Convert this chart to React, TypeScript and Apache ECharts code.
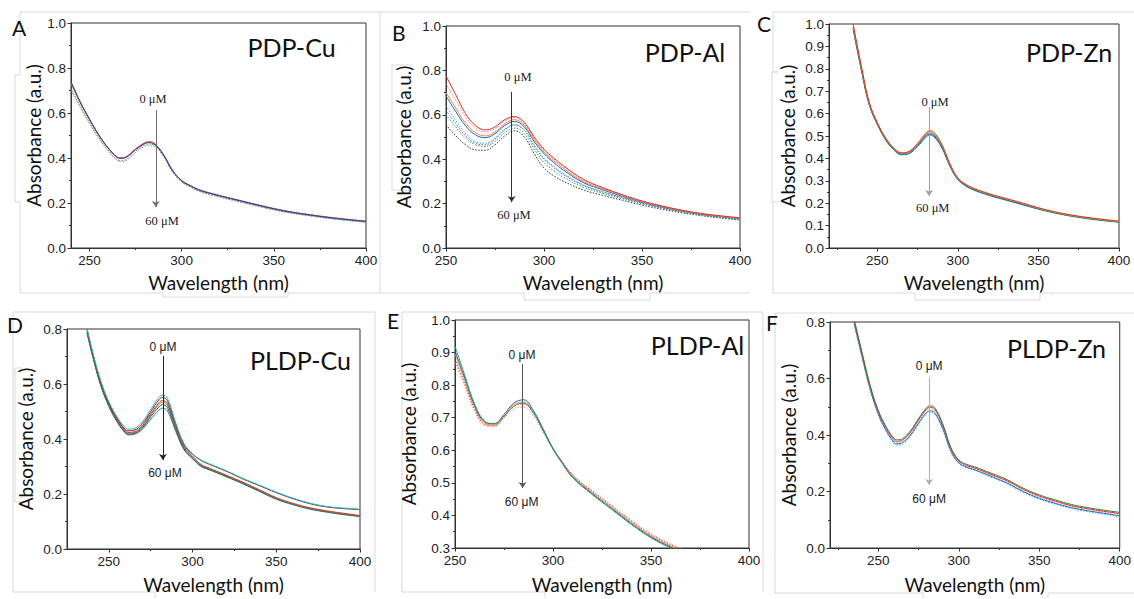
import React, { useEffect, useRef } from 'react';
import * as echarts from 'echarts';

// ---------- DATA ----------
// Panel A: PDP-Cu
const wlA = [240,245,250,255,260,265,267,270,275,280,282,285,290,295,300,305,310,320,330,340,350,360,370,380,390,400];
const pdpCu1 = [0.735,0.648,0.572,0.503,0.447,0.405,0.401,0.406,0.440,0.468,0.472,0.466,0.418,0.346,0.300,0.276,0.257,0.234,0.214,0.194,0.175,0.159,0.147,0.136,0.127,0.119];
const pdpCu2 = [0.740,0.650,0.574,0.504,0.446,0.403,0.399,0.404,0.437,0.464,0.468,0.462,0.415,0.344,0.299,0.275,0.256,0.233,0.213,0.193,0.174,0.158,0.146,0.135,0.126,0.118];
const pdpCu3 = [0.730,0.644,0.569,0.500,0.444,0.402,0.398,0.403,0.438,0.466,0.470,0.465,0.418,0.347,0.301,0.277,0.258,0.235,0.215,0.195,0.176,0.160,0.148,0.137,0.127,0.119];
const pdpCu4 = [0.710,0.630,0.558,0.491,0.436,0.393,0.389,0.394,0.430,0.458,0.462,0.458,0.412,0.341,0.295,0.271,0.252,0.229,0.209,0.189,0.170,0.155,0.143,0.132,0.123,0.115];
const pdpCu5 = [0.700,0.625,0.553,0.487,0.432,0.389,0.385,0.389,0.424,0.452,0.456,0.452,0.408,0.338,0.293,0.269,0.250,0.227,0.207,0.188,0.169,0.154,0.142,0.131,0.122,0.114];

// Panel B: PDP-Al
const wlB = [250,255,260,265,270,275,280,285,290,295,300,305,310,320,330,340,350,360,370,380,390,400];
const pdpAl1 = [0.775,0.690,0.605,0.552,0.532,0.545,0.578,0.592,0.565,0.500,0.445,0.405,0.370,0.310,0.272,0.240,0.212,0.190,0.171,0.156,0.145,0.136];
const pdpAl2 = [0.740,0.665,0.590,0.540,0.524,0.538,0.572,0.588,0.560,0.495,0.440,0.400,0.365,0.306,0.270,0.238,0.210,0.189,0.170,0.155,0.144,0.135];
const pdpAl3 = [0.700,0.630,0.562,0.520,0.505,0.522,0.560,0.578,0.552,0.487,0.432,0.393,0.358,0.300,0.266,0.236,0.209,0.188,0.169,0.154,0.143,0.134];
const pdpAl4 = [0.685,0.615,0.550,0.510,0.497,0.515,0.552,0.570,0.545,0.480,0.425,0.385,0.350,0.295,0.262,0.233,0.207,0.186,0.168,0.153,0.142,0.133];
const pdpAl5 = [0.640,0.575,0.515,0.480,0.472,0.495,0.536,0.556,0.532,0.465,0.405,0.368,0.335,0.285,0.254,0.228,0.204,0.184,0.166,0.152,0.141,0.132];
const pdpAl6 = [0.620,0.560,0.505,0.472,0.465,0.490,0.532,0.553,0.530,0.460,0.400,0.362,0.330,0.282,0.252,0.226,0.202,0.182,0.165,0.151,0.140,0.131];
const pdpAl7 = [0.600,0.545,0.495,0.465,0.458,0.480,0.520,0.540,0.515,0.445,0.385,0.348,0.318,0.274,0.246,0.222,0.199,0.180,0.163,0.149,0.138,0.129];
const pdpAl8 = [0.555,0.505,0.465,0.442,0.440,0.465,0.505,0.528,0.500,0.425,0.360,0.325,0.300,0.262,0.237,0.215,0.193,0.175,0.159,0.146,0.135,0.126];

// Panel C: PDP-Zn
const wlC = [235,240,245,250,255,260,265,270,275,280,282,285,290,295,300,305,310,320,330,340,350,360,370,380,390,400];
const pdpZn1 = [1.000,0.815,0.650,0.560,0.493,0.448,0.425,0.433,0.468,0.512,0.523,0.517,0.463,0.377,0.313,0.284,0.266,0.241,0.221,0.201,0.180,0.162,0.148,0.137,0.128,0.120];
const pdpZn2 = [0.990,0.810,0.647,0.558,0.491,0.446,0.423,0.430,0.464,0.507,0.518,0.512,0.459,0.374,0.311,0.282,0.264,0.239,0.219,0.199,0.178,0.160,0.146,0.135,0.126,0.118];
const pdpZn3 = [0.985,0.805,0.644,0.556,0.489,0.444,0.421,0.428,0.461,0.503,0.513,0.507,0.455,0.371,0.309,0.280,0.262,0.237,0.217,0.197,0.176,0.159,0.145,0.134,0.125,0.117];
const pdpZn4 = [0.980,0.800,0.641,0.554,0.487,0.442,0.419,0.425,0.457,0.498,0.508,0.502,0.451,0.368,0.307,0.278,0.260,0.235,0.215,0.195,0.175,0.158,0.144,0.133,0.124,0.116];
const pdpZn5 = [0.975,0.795,0.638,0.551,0.484,0.439,0.416,0.422,0.453,0.493,0.503,0.497,0.447,0.365,0.305,0.276,0.258,0.233,0.213,0.193,0.173,0.156,0.142,0.131,0.122,0.115];

// Panel D: PLDP-Cu
const wlD = [237,240,245,250,255,260,262,265,270,275,280,282,285,290,295,300,305,310,320,330,340,350,360,370,380,390,400];
const pldpCu1 = [0.800,0.725,0.615,0.536,0.480,0.440,0.436,0.438,0.462,0.508,0.552,0.560,0.548,0.458,0.382,0.347,0.324,0.310,0.285,0.257,0.232,0.207,0.185,0.167,0.155,0.149,0.145];
const pldpCu2 = [0.800,0.720,0.610,0.531,0.474,0.434,0.430,0.432,0.455,0.500,0.543,0.551,0.539,0.452,0.378,0.345,0.322,0.308,0.283,0.255,0.230,0.205,0.183,0.165,0.153,0.147,0.143];
const pldpCu3 = [0.795,0.717,0.606,0.527,0.470,0.429,0.424,0.426,0.448,0.492,0.532,0.540,0.528,0.445,0.372,0.338,0.308,0.294,0.269,0.243,0.215,0.187,0.166,0.150,0.139,0.130,0.122];
const pldpCu4 = [0.790,0.714,0.603,0.524,0.467,0.426,0.421,0.423,0.444,0.487,0.526,0.534,0.522,0.440,0.368,0.334,0.305,0.292,0.267,0.241,0.213,0.185,0.164,0.148,0.137,0.128,0.120];
const pldpCu5 = [0.788,0.711,0.600,0.521,0.464,0.423,0.418,0.420,0.440,0.481,0.517,0.525,0.514,0.434,0.364,0.331,0.303,0.290,0.265,0.239,0.211,0.183,0.163,0.147,0.136,0.127,0.119];
const pldpCu6 = [0.785,0.708,0.597,0.518,0.461,0.420,0.415,0.417,0.435,0.472,0.505,0.512,0.502,0.427,0.360,0.328,0.300,0.288,0.263,0.237,0.209,0.181,0.161,0.145,0.134,0.125,0.118];

// Panel E: PLDP-Al
const wlE = [250,255,260,265,270,275,280,285,290,295,300,305,310,320,330,340,350,360,370];
const pldpAl1 = [0.920,0.830,0.742,0.690,0.681,0.705,0.735,0.745,0.715,0.660,0.603,0.557,0.516,0.464,0.418,0.372,0.331,0.300,0.273];
const pldpAl2 = [0.905,0.822,0.738,0.688,0.682,0.710,0.745,0.755,0.722,0.665,0.606,0.559,0.518,0.467,0.421,0.375,0.334,0.303,0.276];
const pldpAl3 = [0.895,0.815,0.733,0.684,0.678,0.705,0.740,0.748,0.717,0.662,0.606,0.561,0.521,0.470,0.424,0.378,0.337,0.306,0.279];
const pldpAl4 = [0.880,0.805,0.727,0.680,0.675,0.702,0.735,0.742,0.713,0.660,0.606,0.563,0.524,0.474,0.428,0.382,0.341,0.310,0.283];
const pldpAl5 = [0.870,0.795,0.720,0.676,0.674,0.699,0.728,0.733,0.705,0.655,0.604,0.563,0.525,0.476,0.431,0.385,0.344,0.313,0.286];

// Panel F: PLDP-Zn
const wlF = [235,240,245,250,255,260,262,265,270,275,280,282,285,290,295,300,305,310,320,330,340,350,360,370,380,390,400];
const pldpZn1 = [0.810,0.690,0.575,0.487,0.428,0.387,0.383,0.387,0.415,0.458,0.497,0.503,0.497,0.440,0.357,0.312,0.296,0.287,0.265,0.242,0.212,0.188,0.170,0.154,0.143,0.134,0.126];
const pldpZn2 = [0.805,0.685,0.570,0.483,0.423,0.382,0.378,0.382,0.410,0.453,0.492,0.498,0.492,0.435,0.353,0.308,0.292,0.283,0.261,0.238,0.208,0.184,0.166,0.150,0.139,0.130,0.122];
const pldpZn3 = [0.800,0.680,0.566,0.479,0.419,0.378,0.374,0.378,0.406,0.448,0.487,0.492,0.487,0.430,0.349,0.305,0.289,0.280,0.258,0.234,0.204,0.180,0.162,0.147,0.136,0.127,0.118];
const pldpZn4 = [0.795,0.676,0.562,0.475,0.415,0.373,0.369,0.373,0.400,0.442,0.480,0.485,0.479,0.424,0.345,0.302,0.286,0.277,0.254,0.230,0.200,0.176,0.158,0.143,0.132,0.123,0.114];
const pldpZn5 = [0.790,0.672,0.558,0.471,0.411,0.368,0.364,0.368,0.396,0.437,0.475,0.480,0.474,0.420,0.342,0.299,0.283,0.274,0.251,0.227,0.197,0.173,0.155,0.140,0.129,0.120,0.110];

const majorX = [250, 300, 350, 400];
const annText = ['0 \u03bcM', '60 \u03bcM'];

// ---------- STYLE / LAYOUT ----------
const SANS = 'Lato, "Open Sans", sans-serif';
const ARIAL = '"Liberation Sans", Arial, sans-serif';
const SERIF = '"Liberation Serif", "Times New Roman", serif';

type LS = [string, 'solid' | 'dotted'];

const panels = [
  {
    title: 'PDP-Cu', letter: 'A', box: [71, 23, 295, 225], x: [240, 400], y: [0, 1, 0.2], minorX: [275, 325, 375],
    wl: wlA, data: [pdpCu5, pdpCu4, pdpCu3, pdpCu1, pdpCu2],
    styles: [['#9a9a9a', 'dotted'], ['#3aa55a', 'dotted'], ['#f28c28', 'solid'], ['#e0301e', 'solid'], ['#1f3fc8', 'solid']] as LS[],
    ann: { l0: [284.5, 0.662], l60: [289.4, 0.12], ax: 286, a0: 0.613, a1: 0.182 }, annFont: SERIF, annSize: 12.5, arrow: '#707070',
    gapX: 25, gapY: 28, titlePos: [291.5, 47], letterPos: [12, 27],
  },
  {
    title: 'PDP-Al', letter: 'B', box: [446, 26, 294, 222], x: [250, 400], y: [0, 1, 0.2], minorX: [275, 325, 375],
    wl: wlB, data: [pdpAl8, pdpAl7, pdpAl6, pdpAl5, pdpAl4, pdpAl3, pdpAl2, pdpAl1],
    styles: [['#333333', 'dotted'], ['#2ca05a', 'dotted'], ['#7b4fb0', 'dotted'], ['#20b5c8', 'dotted'], ['#1f5fd0', 'solid'], ['#f28c28', 'solid'], ['#e377c2', 'dotted'], ['#e0301e', 'solid']] as LS[],
    ann: { l0: [286.7, 0.77], l60: [284.7, 0.149], ax: 283.5, a0: 0.703, a1: 0.207 }, annFont: SERIF, annSize: 12.5, arrow: '#333333',
    gapX: 25, gapY: 33, titlePos: [685, 52], letterPos: [392, 32],
  },
  {
    title: 'PDP-Zn', letter: 'C', box: [829, 24, 290, 224], x: [220, 400], y: [0, 1, 0.1], minorX: [225, 275, 325, 375],
    wl: wlC, data: [pdpZn5, pdpZn4, pdpZn3, pdpZn2, pdpZn1],
    styles: [['#17a0b0', 'solid'], ['#1f3fc8', 'solid'], ['#2ca05a', 'solid'], ['#f28c28', 'solid'], ['#e0301e', 'solid']] as LS[],
    ann: { l0: [285.8, 0.652], l60: [284.4, 0.179], ax: 282.1, a0: 0.629, a1: 0.232 }, annFont: SERIF, annSize: 12.5, arrow: '#a0a0a0',
    gapX: 25, gapY: 32, titlePos: [1069, 52], letterPos: [757, 23],
  },
  {
    title: 'PLDP-Cu', letter: 'D', box: [67, 329, 293, 220], x: [225, 400], y: [0, 0.8, 0.2], minorX: [275, 325, 375],
    wl: wlD, data: [pldpCu6, pldpCu5, pldpCu4, pldpCu3, pldpCu2, pldpCu1],
    styles: [['#138a8a', 'solid'], ['#2c3e90', 'solid'], ['#6b8e23', 'solid'], ['#e0301e', 'solid'], ['#8b2020', 'solid'], ['#17becf', 'solid']] as LS[],
    ann: { l0: [282.3, 0.735], l60: [283.5, 0.276], ax: 282.3, a0: 0.702, a1: 0.324 }, annFont: ARIAL, annSize: 12, arrow: '#222222',
    gapX: 26, gapY: 32, titlePos: [300.5, 360], letterPos: [7, 324],
  },
  {
    title: 'PLDP-Al', letter: 'E', box: [455, 320, 294, 228], x: [250, 400], y: [0.3, 1, 0.1], minorX: [275, 325, 375],
    wl: wlE, data: [pldpAl5, pldpAl4, pldpAl3, pldpAl2, pldpAl1],
    styles: [['#f08ca0', 'dotted'], ['#e0301e', 'dotted'], ['#f28c28', 'solid'], ['#1f5fd0', 'solid'], ['#2ca05a', 'solid']] as LS[],
    ann: { l0: [284.2, 0.8925], l60: [284.0, 0.442], ax: 284.5, a0: 0.865, a1: 0.484 }, annFont: ARIAL, annSize: 12, arrow: '#555555',
    gapX: 27, gapY: 37, titlePos: [697.5, 345], letterPos: [387, 320],
  },
  {
    title: 'PLDP-Zn', letter: 'F', box: [830, 322, 292, 226], x: [220, 400], y: [0, 0.8, 0.2], minorX: [225, 275, 325, 375],
    wl: wlF, data: [pldpZn5, pldpZn4, pldpZn3, pldpZn2, pldpZn1],
    styles: [['#17becf', 'dotted'], ['#1f5fd0', 'solid'], ['#f08ca0', 'dotted'], ['#e0301e', 'solid'], ['#2e7d32', 'solid']] as LS[],
    ann: { l0: [281.6, 0.644], l60: [281.6, 0.173], ax: 281.6, a0: 0.605, a1: 0.223 }, annFont: ARIAL, annSize: 12, arrow: '#b0b0b0',
    gapX: 27, gapY: 32, titlePos: [1056.5, 348], letterPos: [766, 322],
  },
];

// faint frame lines of the composed figure
const frameLines: number[][][] = [
  [[20, 12], [380, 12]],
  [[20, 12], [20, 75], [15, 75], [15, 202], [20, 202], [20, 293], [163, 293], [163, 297], [288, 297], [288, 293], [380, 293]],
  [[380, 12], [750, 12]],
  [[380, 12], [380, 293], [524, 293], [524, 300], [650, 300], [650, 293], [750, 293]],
  [[412, 65], [392, 65], [392, 190], [412, 190]],
  [[773, 12], [1134, 12]],
  [[773, 12], [773, 72], [778, 72]],
  [[778, 72], [772, 72], [772, 202], [778, 202]],
  [[773, 202], [773, 293], [915, 293], [915, 300], [1040, 300], [1040, 293], [1134, 293]],
  [[13, 312], [375, 312]],
  [[13, 312], [13, 592], [155, 592], [155, 598]],
  [[22, 368], [15, 368], [15, 502], [22, 502]],
  [[375, 312], [375, 592]],
  [[402, 312], [763, 312]],
  [[402, 312], [402, 592], [545, 592], [545, 598]],
  [[763, 312], [763, 592]],
  [[775, 313], [1134, 313]],
  [[775, 313], [775, 593], [923, 593], [923, 598]],
  [[1048, 598], [1048, 593], [1134, 593]],
];

function buildOption() {
  const grid: any[] = [];
  const xAxis: any[] = [];
  const yAxis: any[] = [];
  const series: any[] = [];
  const graphic: any[] = [];

  frameLines.forEach((pts, n) => {
    graphic.push({ id: 'frame' + n, type: 'polyline', silent: true, z: 0, shape: { points: pts }, style: { stroke: '#d9d9d9', lineWidth: 1, fill: null } });
  });

  panels.forEach((p, i) => {
    grid.push({
      left: p.box[0], top: p.box[1], width: p.box[2], height: p.box[3],
      show: true, borderColor: '#333', borderWidth: 1, backgroundColor: 'transparent',
    });
    xAxis.push({
      type: 'value', gridIndex: i, min: p.x[0], max: p.x[1], position: 'bottom',
      name: 'Wavelength (nm)', nameLocation: 'middle', nameGap: p.gapX,
      nameTextStyle: { fontFamily: SANS, fontSize: 19, color: '#111' },
      axisLine: { show: true, onZero: false, lineStyle: { color: '#333', width: 1 } },
      axisTick: { show: true, inside: false, length: 3.5, customValues: majorX, lineStyle: { color: '#333' } },
      axisLabel: { show: true, customValues: majorX, margin: 5, fontFamily: ARIAL, fontSize: 13.5, color: '#222' },
      splitLine: { show: false },
    });
    xAxis.push({
      type: 'value', gridIndex: i, min: p.x[0], max: p.x[1], position: 'bottom',
      axisLine: { show: false, onZero: false },
      axisTick: { show: true, inside: false, length: 2, customValues: p.minorX, lineStyle: { color: '#333' } },
      axisLabel: { show: false },
      splitLine: { show: false },
    });
    yAxis.push({
      type: 'value', gridIndex: i, min: p.y[0], max: p.y[1], interval: p.y[2], position: 'left',
      name: 'Absorbance (a.u.)', nameLocation: 'middle', nameGap: p.gapY,
      nameTextStyle: { fontFamily: SANS, fontSize: 19, color: '#111' },
      axisLine: { show: true, onZero: false, lineStyle: { color: '#333', width: 1 } },
      axisTick: { show: true, inside: false, length: 3.5, lineStyle: { color: '#333' } },
      minorTick: { show: true, splitNumber: 2, length: 2, lineStyle: { color: '#333' } },
      axisLabel: { show: true, margin: 5, fontFamily: ARIAL, fontSize: 13.5, color: '#222', formatter: (v: number) => v.toFixed(1) },
      splitLine: { show: false },
    });

    p.data.forEach((arr, k) => {
      const st = p.styles[k];
      series.push({
        type: 'line', xAxisIndex: 2 * i, yAxisIndex: i, showSymbol: false, symbol: 'none',
        smooth: 0.4, clip: true, silent: true,
        lineStyle: { color: st[0], width: 1, type: st[1] === 'dotted' ? [1.5, 1.5] : 'solid' },
        data: p.wl.map((w, j) => [w, arr[j]]),
      });
    });

    // arrow annotation (data coordinates)
    series.push({
      type: 'line', xAxisIndex: 2 * i, yAxisIndex: i, silent: true, z: 10, data: [],
      markLine: {
        silent: true, symbol: ['none', 'arrow'], symbolSize: 6, animation: false,
        label: { show: false },
        lineStyle: { color: p.arrow, width: 1, type: 'solid' },
        itemStyle: { color: p.arrow },
        data: [[{ coord: [p.ann.ax, p.ann.a0] }, { coord: [p.ann.ax, p.ann.a1] }]],
      },
    });

    graphic.push({
      id: 'title' + i, type: 'text', silent: true, z: 20, x: p.titlePos[0], y: p.titlePos[1],
      style: { text: p.title, fontFamily: SANS, fontSize: 25, fill: '#111', align: 'center', verticalAlign: 'middle' },
    });
    graphic.push({
      id: 'letter' + i, type: 'text', silent: true, z: 20, x: p.letterPos[0], y: p.letterPos[1],
      style: { text: p.letter, fontFamily: SANS, fontSize: 21, fill: '#111', align: 'left', verticalAlign: 'middle' },
    });
  });

  return { animation: false, backgroundColor: '#fff', grid, xAxis, yAxis, series, graphic };
}

export default function App() {
  const ref = useRef<HTMLDivElement>(null);
  useEffect(() => {
    if (!ref.current) return;
    const chart = echarts.init(ref.current, undefined, { renderer: 'svg' });
    chart.setOption(buildOption() as any);
    // concentration labels placed through each panel's own scales
    const labels: any[] = [];
    panels.forEach((p, i) => {
      const pts = [p.ann.l0, p.ann.l60];
      pts.forEach((pt, k) => {
        const px = chart.convertToPixel({ xAxisIndex: 2 * i, yAxisIndex: i } as any, pt as any) as any;
        labels.push({
          id: 'ann' + i + '_' + k, type: 'text', silent: true, z: 30, x: px[0], y: px[1],
          style: { text: annText[k], fontFamily: p.annFont, fontSize: p.annSize, fill: '#1a1a1a', align: 'center', verticalAlign: 'middle' },
        });
      });
    });
    chart.setOption({ graphic: labels } as any);
    return () => chart.dispose();
  }, []);
  return (
    <div
      ref={ref}
      style={{ position: 'absolute', left: 0, top: 0, width: 1134, height: 599, background: '#fff' }}
    />
  );
}
